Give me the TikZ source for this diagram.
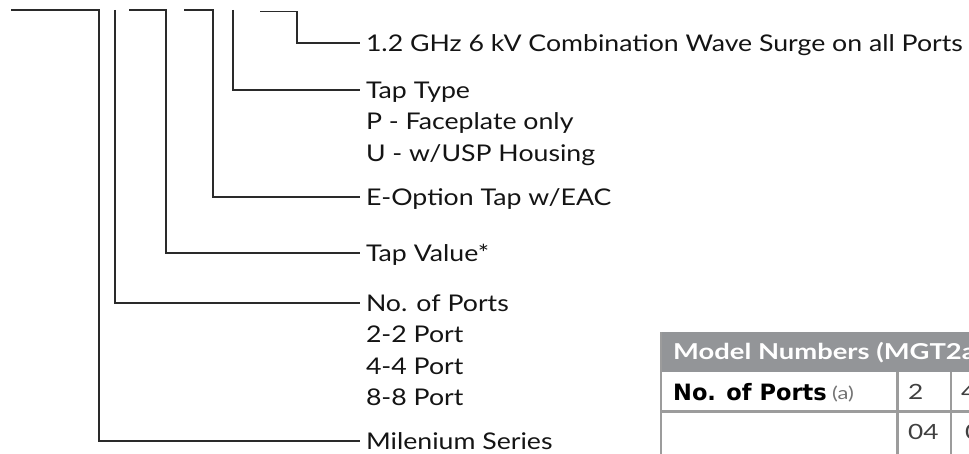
\documentclass[tikz,border=0pt]{standalone}
\usepackage{fontspec}
\setmainfont{Lato}[FakeStretch=1.16]
\newfontfamily\tblfont{Lato}[FakeStretch=1.25]
\newfontfamily\boldcellfont{DejaVu Sans}
\definecolor{linegray}{HTML}{2A2A2A}
\definecolor{hdrgray}{HTML}{939598}
\definecolor{tblgray}{HTML}{9C9C9C}
\begin{document}
\begin{tikzpicture}[x=1pt,y=-1pt,
  conn/.style={draw=linegray,line width=1.2pt},
  lbl/.style={anchor=west,inner sep=0pt,outer sep=0pt,font=\fontsize{23}{23}\selectfont,text height=16.5pt,text depth=0pt,text=black!92},
  gap/.style={xshift=-6pt},
  tline/.style={draw=tblgray,line width=2.4pt},
  hdr/.style={anchor=west,inner sep=0pt,font=\tblfont\fontsize{21.9}{21.9}\selectfont\bfseries,text=white,text height=15pt,text depth=0pt},
  cell/.style={anchor=west,inner sep=0pt,font=\tblfont\fontsize{21}{21}\selectfont,text=black!75,text height=15pt,text depth=0pt},
  bcell/.style={anchor=west,inner sep=0pt,font=\boldcellfont\fontsize{22.5}{22.5}\selectfont\bfseries,text=black,text height=16pt,text depth=0pt}
]
\useasboundingbox (0,0) rectangle (969,454);
\clip (0,0) rectangle (969,454);

% labels
\node[lbl] (gz) at (366,43) {1.2 GHz 6 kV Combination Wave Surge on all Ports};
\node[lbl] (tt) at (366,90) {Tap Type};
\node[lbl] (tp) at (366,121.5) {P - Faceplate only};
\node[lbl] (tu) at (366,153) {U - w/USP Housing};
\node[lbl] (eo) at (366,197) {E-Option Tap w/EAC};
\node[lbl] (tv) at (366,253) {Tap Value*};
\node[lbl] (np) at (366,303) {No. of Ports};
\node[lbl] (p2) at (366,334.5) {2-2 Port};
\node[lbl] (p4) at (366,366) {4-4 Port};
\node[lbl] (p8) at (366,397.5) {8-8 Port};
\node[lbl] (ms) at (366,441) {Milenium Series};

% connector corners
\coordinate (s1) at (11,10);   \coordinate (k1) at (99,10);
\coordinate (s2) at (115,10);
\coordinate (s3) at (129,10);  \coordinate (k3) at (166,10);
\coordinate (s4) at (184,10);  \coordinate (k4) at (213,10);
\coordinate (s5) at (233,10);
\coordinate (s6) at (260,11.5); \coordinate (k6) at (297,11.5);

\draw[conn] (s1) -- (k1) |- ([gap]ms.west);
\draw[conn] (s2) |- ([gap]np.west);
\draw[conn] (s3) -- (k3) |- ([gap]tv.west);
\draw[conn] (s4) -- (k4) |- ([gap]eo.west);
\draw[conn] (s5) |- ([gap]tt.west);
\draw[conn] (s6) -- (k6) |- ([gap]gz.west);

% table
\fill[hdrgray] (661,332) rectangle (980,372);
\draw[tline] (661,332) -- (661,460);
\draw[tline] (661,411.5) -- (980,411.5);
\draw[tline] (897.5,372) -- (897.5,460);
\draw[tline] (951,372) -- (951,460);
\node[hdr] (mh) at (673,352) {Model Numbers (MGT2a};
\node[bcell] (nop) at (673,392) {No. of Ports};
\node[cell,font=\tblfont\fontsize{17.5}{17.5}\selectfont,text=black!55] (nopa) at ([xshift=5pt]nop.east) {(a)};
\node[cell] (c2) at (908,392) {2};
\node[cell] (c4) at (961,392) {4};
\node[cell] (c04) at (908,432) {04};
\node[cell] (c08) at (965,432) {0};
\end{tikzpicture}
\end{document}
